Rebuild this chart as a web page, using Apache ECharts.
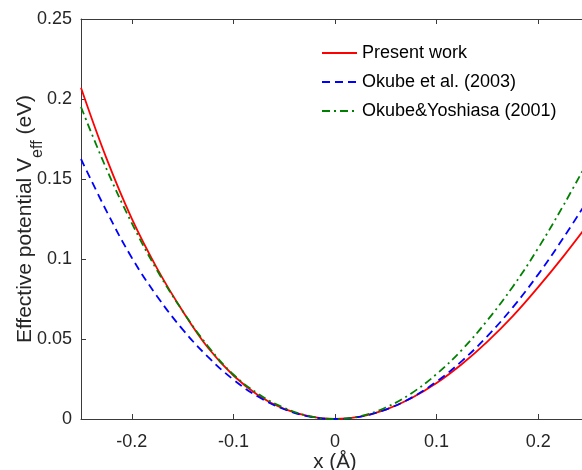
<!DOCTYPE html>
<html>
<head>
<meta charset="utf-8">
<script src="https://cdn.jsdelivr.net/npm/echarts@6/dist/echarts.min.js"></script>
<style>
html,body{margin:0;padding:0;background:#fff;}
#main{width:582px;height:470px;}
</style>
</head>
<body>
<div id="main"></div>
<script>
// Data
const xValues = [-0.25,-0.225,-0.2,-0.175,-0.15,-0.125,-0.1,-0.075,-0.05,-0.025,0,0.025,0.05,0.075,0.1,0.125,0.15,0.175,0.2,0.225,0.25];
const presentWork = [0.207,0.163,0.1252,0.094,0.0675,0.0445,0.0272,0.0146,0.0063,0.0016,0,0.0015,0.0059,0.013,0.0225,0.0344,0.0484,0.0643,0.0824,0.1018,0.1225];
const okube2003 = [0.1625,0.1301,0.1008,0.0766,0.056,0.0388,0.0246,0.0137,0.0061,0.0015,0,0.0015,0.0059,0.0132,0.0234,0.0363,0.0518,0.0698,0.0904,0.1134,0.1381];
const okubeYoshiasa2001 = [0.195,0.1564,0.1224,0.0928,0.0675,0.0455,0.0278,0.0155,0.007,0.0018,0,0.0018,0.0072,0.016,0.0281,0.0433,0.0617,0.0827,0.1068,0.1337,0.1625];
const seriesNames = ['Present work','Okube et al. (2003)','Okube&Yoshiasa (2001)'];
const yTicks = [0,0.05,0.1,0.15,0.2,0.25];

const pairs = arr => xValues.map((x,i)=>[x,arr[i]]);
const FONT = '"Liberation Sans", Arial, Helvetica, sans-serif';
const AXC = '#3a3a3a';
const TXC = '#262626';

const chart = echarts.init(document.getElementById('main'), null, {renderer:'canvas'});
const option = {
  animation:false,
  backgroundColor:'#ffffff',
  textStyle:{fontFamily:FONT},
  grid:{left:81, top:19, width:508, height:400, containLabel:false, outerBoundsMode:'none'},
  legend:{
    orient:'vertical', left:316, top:39,
    itemWidth:35, itemHeight:14, itemGap:11,
    data:seriesNames,
    itemStyle:{opacity:0},
    textStyle:{fontSize:18, color:'#000', fontFamily:FONT, lineHeight:18},
    backgroundColor:'#fff'
  },
  xAxis:[{
    type:'value', min:-0.25, max:0.25, splitNumber:5,
    position:'bottom',
    axisLine:{show:true, onZero:false, lineStyle:{color:AXC, width:1}},
    axisTick:{show:true, inside:true, length:5, lineStyle:{color:AXC}},
    axisLabel:{show:true, showMinLabel:false, showMaxLabel:false, margin:14, fontSize:18, color:TXC, fontFamily:FONT},
    splitLine:{show:false},
    name:'x (Å)', nameLocation:'middle', nameGap:33, nameMoveOverlap:false,
    nameTextStyle:{fontSize:20.5, color:TXC, fontFamily:FONT}
  },{
    type:'value', min:-0.25, max:0.25, splitNumber:5,
    position:'top',
    axisLine:{show:true, onZero:false, lineStyle:{color:AXC, width:1}},
    axisTick:{show:true, inside:true, length:5, lineStyle:{color:AXC}},
    axisLabel:{show:false},
    splitLine:{show:false}
  }],
  yAxis:{
    type:'value', min:yTicks[0], max:yTicks[yTicks.length-1], interval:0.05,
    axisLine:{show:true, onZero:false, lineStyle:{color:AXC, width:1}},
    axisTick:{show:true, inside:true, length:5, lineStyle:{color:AXC}},
    axisLabel:{margin:9, fontSize:18, color:TXC, fontFamily:FONT},
    splitLine:{show:false},
    name:'{m|Effective potential V}{s|eff}{m| (eV)}',
    nameLocation:'middle', nameGap:35.5, nameMoveOverlap:false,
    nameTextStyle:{
      color:TXC, fontFamily:FONT,
      rich:{
        m:{fontSize:21, lineHeight:22, verticalAlign:'bottom', padding:[0,0,10,0], color:TXC, fontFamily:FONT},
        s:{fontSize:16, lineHeight:16, verticalAlign:'bottom', color:TXC, fontFamily:FONT}
      }
    }
  },
  series:[
    {name:seriesNames[0], type:'line', data:pairs(presentWork), smooth:0.4, symbol:'none', clip:true,
      lineStyle:{color:'#ff0000', width:1.8, type:'solid'}, itemStyle:{color:'#ff0000'}, z:3},
    {name:seriesNames[1], type:'line', data:pairs(okube2003), smooth:0.4, symbol:'none', clip:true,
      lineStyle:{color:'#0000ff', width:1.8, type:[8,5]}, itemStyle:{color:'#0000ff'}, z:4},
    {name:seriesNames[2], type:'line', data:pairs(okubeYoshiasa2001), smooth:0.4, symbol:'none', clip:true,
      lineStyle:{color:'#008000', width:1.8, type:[8,4,2,4]}, itemStyle:{color:'#008000'}, z:5}
  ]
};
chart.setOption(option);
</script>
</body>
</html>
